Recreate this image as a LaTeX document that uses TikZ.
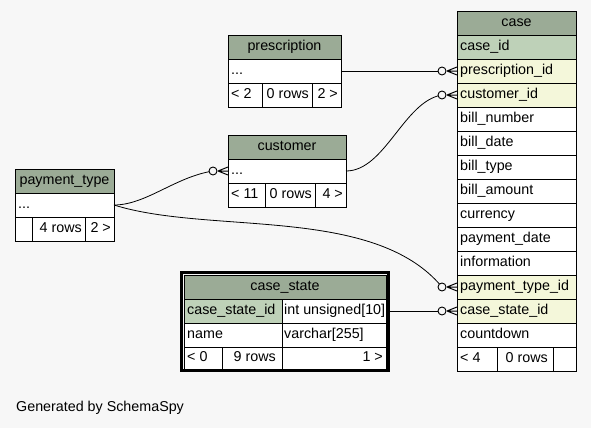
\documentclass[tikz,border=0pt]{standalone}
\usepackage{fontspec}
\setmainfont{Liberation Sans}
\definecolor{bgc}{HTML}{F7F7F7}
\definecolor{hdr}{HTML}{9BAB96}
\definecolor{pk}{HTML}{BED1B8}
\definecolor{fk}{HTML}{F4F7DA}
\tikzset{
  cellb/.style={draw=black, line width=0.8pt, inner sep=0pt, outer sep=0pt},
  ctext/.style={inner sep=0pt, text height=10pt, text depth=3.5pt, font=\fontsize{14.3}{16}\selectfont},
  conn/.style={draw=black, line width=0.8pt},
  crowodot/.pic={
    \draw[line width=1pt] (-10,0) -- (0,-4) (-10,0) -- (0,0) (-10,0) -- (0,4);
    \draw[line width=0.9pt, fill=bgc] (-15,0) circle[radius=4pt];
  }
}
% name, x1, y1, x2, y2, fill, anchor, xshift, text
\newcommand\tcell[9]{%
  \node[cellb, fill=#6, minimum width={(#4-#2)*1pt}, minimum height={(#5-#3)*1pt}] (#1) at ({(#2+#4)/2},{(#3+#5)/2}) {};
  \node[ctext, anchor=#7] at ([xshift=#8]#1.#7) {#9};
}
\begin{document}
\begin{tikzpicture}[x=1pt, y=-1pt]
\fill[bgc] (0,0) rectangle (591,428);
\useasboundingbox (0,0) rectangle (591,428);

% case
\tcell{case-h}{457}{11}{576}{35}{hdr}{center}{0pt}{case}
\tcell{case-id}{457}{35}{576}{59}{pk}{west}{3pt}{case\_id}
\tcell{case-presc}{457}{59}{576}{83}{fk}{west}{3pt}{prescription\_id}
\tcell{case-cust}{457}{83}{576}{107}{fk}{west}{3pt}{customer\_id}
\tcell{case-billno}{457}{107}{576}{131}{white}{west}{3pt}{bill\_number}
\tcell{case-billdate}{457}{131}{576}{155}{white}{west}{3pt}{bill\_date}
\tcell{case-billtype}{457}{155}{576}{179}{white}{west}{3pt}{bill\_type}
\tcell{case-billamt}{457}{179}{576}{203}{white}{west}{3pt}{bill\_amount}
\tcell{case-curr}{457}{203}{576}{227}{white}{west}{3pt}{currency}
\tcell{case-paydate}{457}{227}{576}{251}{white}{west}{3pt}{payment\_date}
\tcell{case-info}{457}{251}{576}{275}{white}{west}{3pt}{information}
\tcell{case-ptype}{457}{275}{576}{299}{fk}{west}{3pt}{payment\_type\_id}
\tcell{case-cstate}{457}{299}{576}{323}{fk}{west}{3pt}{case\_state\_id}
\tcell{case-count}{457}{323}{576}{347}{white}{west}{3pt}{countdown}
\tcell{case-f1}{457}{347}{497}{371}{white}{west}{3pt}{< 4}
\tcell{case-f2}{497}{347}{553}{371}{white}{east}{-5pt}{0 rows}
\tcell{case-f3}{553}{347}{576}{371}{white}{center}{0pt}{}

% prescription
\tcell{presc-h}{228}{35}{341}{59}{hdr}{center}{0pt}{prescription}
\tcell{presc-dots}{228}{59}{341}{83}{white}{west}{3pt}{...}
\tcell{presc-f1}{228}{83}{262}{107}{white}{west}{3pt}{< 2}
\tcell{presc-f2}{262}{83}{312}{107}{white}{east}{-3pt}{0 rows}
\tcell{presc-f3}{312}{83}{341}{107}{white}{east}{-3pt}{2 >}

% customer
\tcell{cust-h}{228}{135}{346}{159}{hdr}{center}{0pt}{customer}
\tcell{cust-dots}{228}{159}{346}{183}{white}{west}{3pt}{...}
\tcell{cust-f1}{228}{183}{265}{207}{white}{west}{3pt}{< 11}
\tcell{cust-f2}{265}{183}{315}{207}{white}{east}{-3pt}{0 rows}
\tcell{cust-f3}{315}{183}{346}{207}{white}{east}{-3pt}{4 >}

% payment_type
\tcell{pt-h}{15}{169}{114}{193}{hdr}{center}{0pt}{payment\_type}
\tcell{pt-dots}{15}{193}{114}{217}{white}{west}{3pt}{...}
\tcell{pt-f1}{15}{217}{32}{241}{white}{west}{3pt}{}
\tcell{pt-f2}{32}{217}{85}{241}{white}{east}{-3pt}{4 rows}
\tcell{pt-f3}{85}{217}{114}{241}{white}{east}{-3pt}{2 >}

% case_state
\tcell{cs-h}{184}{275}{386}{299}{hdr}{center}{0pt}{case\_state}
\tcell{cs-id}{184}{299}{282}{323}{pk}{west}{3pt}{case\_state\_id}
\tcell{cs-idtype}{282}{299}{386}{323}{white}{west}{2pt}{int unsigned[10]}
\tcell{cs-name}{184}{323}{282}{347}{white}{west}{3pt}{name}
\tcell{cs-nametype}{282}{323}{386}{347}{white}{west}{2pt}{varchar[255]}
\tcell{cs-f1}{184}{347}{222}{369}{white}{west}{3pt}{< 0}
\tcell{cs-f2}{222}{347}{282}{369}{white}{east}{-6pt}{9 rows}
\tcell{cs-f3}{282}{347}{386}{369}{white}{east}{-3pt}{1 >}

% connectors
\draw[conn] (presc-dots.east) -- ([xshift=-19pt]case-presc.west);
\draw[conn] (cs-idtype.east) -- ([xshift=-19pt]case-cstate.west);
\draw[conn] (cust-dots.east) .. controls +(39,0) and +(-38,6) .. ([xshift=-15pt]case-cust.west);
\draw[conn] (pt-dots.east) .. controls +(32,0) and +(-38,6) .. ([xshift=-15pt]cust-dots.west);
\draw[conn] (pt-dots.east) .. controls +(96,30) and +(-68,-82) .. ([xshift=-15pt]case-ptype.west);

\draw[line width=3pt] (181.5,272.5) rectangle (388.5,370.5);

% connector ends
\pic at (case-presc.west) {crowodot};
\pic at (case-cust.west) {crowodot};
\pic at (case-ptype.west) {crowodot};
\pic at (case-cstate.west) {crowodot};
\pic at (cust-dots.west) {crowodot};

\node[ctext, anchor=west] (gen) at (16,408) {Generated by SchemaSpy};
\end{tikzpicture}
\end{document}
